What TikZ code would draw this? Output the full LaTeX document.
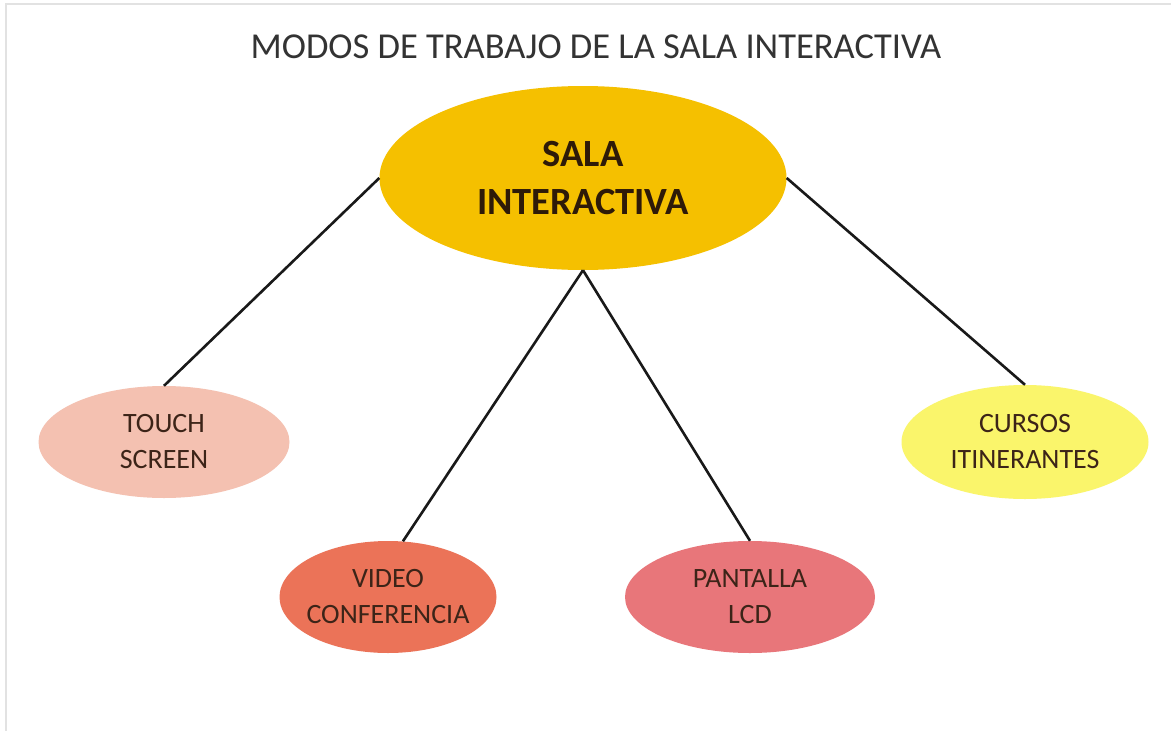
\documentclass[tikz,border=0pt]{standalone}
\usepackage{fontspec}
\setmainfont{Carlito}
\usetikzlibrary{shapes.geometric}
\definecolor{maincol}{HTML}{F5C000}
\definecolor{touchcol}{HTML}{F4C1B1}
\definecolor{cursoscol}{HTML}{FAF56B}
\definecolor{videocol}{HTML}{EB7358}
\definecolor{pantcol}{HTML}{E8767A}
\definecolor{subtxt}{HTML}{3C2418}
\definecolor{maintxt}{HTML}{2E1A08}
\definecolor{titletxt}{HTML}{333333}
\definecolor{framecol}{HTML}{E2E2E2}
\tikzset{
  blob/.style={ellipse, inner xsep=-40pt, inner ysep=-10pt, align=center, text=subtxt,
    font=\fontsize{28}{36}\selectfont},
  link/.style={draw=black!90, line width=2.6pt}
}
\begin{document}
\begin{tikzpicture}[x=1pt,y=-1pt]
\useasboundingbox (0,0) rectangle (1171,731);
\fill[white] (0,0) rectangle (1171,731);
\draw[framecol, line width=1.2pt] (6,731) -- (6,4) -- (1171,4);
\node[font=\fontsize{36.5}{44}\selectfont, text=titletxt] (title) at (596,47) {MODOS DE TRABAJO DE LA SALA INTERACTIVA};
\node[ellipse, fill=maincol, minimum width=407pt, minimum height=184pt, inner xsep=-30pt, inner ysep=-10pt,
  align=center, text=maintxt, font=\fontsize{38.5}{48}\bfseries\selectfont] (main) at (583,178) {SALA\\INTERACTIVA};
\node[blob, fill=touchcol, minimum width=251pt, minimum height=112pt] (touch) at (164,442) {TOUCH\\SCREEN};
\node[blob, fill=cursoscol, minimum width=247pt, minimum height=114pt] (cursos) at (1025,442) {CURSOS\\ITINERANTES};
\node[blob, fill=videocol, minimum width=217pt, minimum height=112pt] (video) at (388,597) {VIDEO\\CONFERENCIA};
\node[blob, fill=pantcol, minimum width=250pt, minimum height=112pt] (pant) at (750,597) {PANTALLA\\LCD};
\draw[link] (main.west) -- (touch.north);
\draw[link] (main.east) -- (cursos.north);
\draw[link] (main.south) -- (video.75);
\draw[link] (main.south) -- (pant.north);
\end{tikzpicture}
\end{document}
